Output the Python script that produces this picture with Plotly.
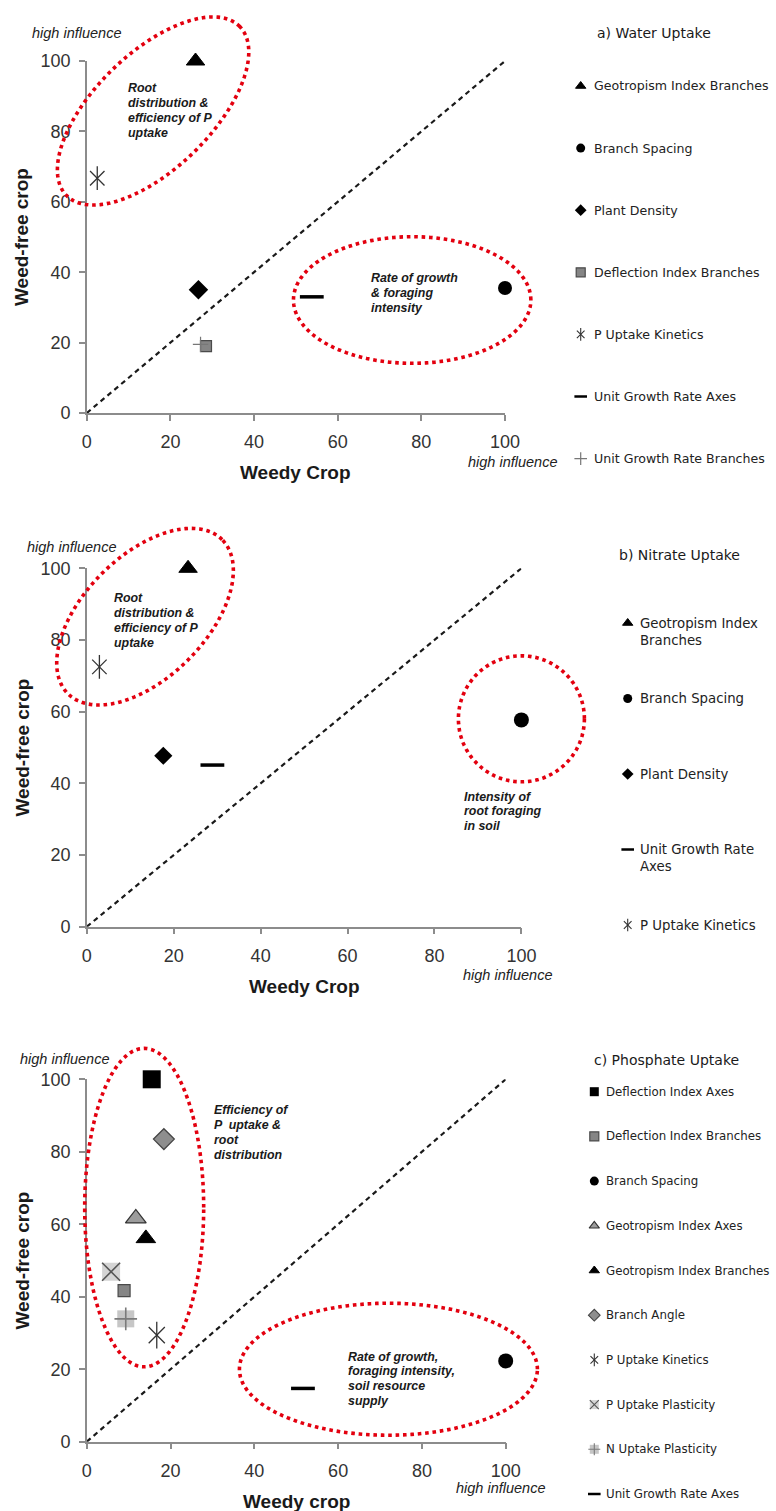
import math
import plotly.graph_objects as go

FIG_W, FIG_H = 776, 1511

# ---------------- data ----------------
TICKS = [0, 20, 40, 60, 80, 100]
DIAG = [0, 100]

A_TITLE = "a) Water Uptake"
A_SERIES = ["Geotropism Index Branches", "Branch Spacing", "Plant Density",
            "Deflection Index Branches", "P Uptake Kinetics",
            "Unit Growth Rate Axes", "Unit Growth Rate Branches"]
A_X = [26.0, 100.0, 26.7, 28.5, 2.5, 53.8, 27.2]
A_Y = [100.0, 35.5, 35.0, 19.0, 66.7, 33.0, 19.5]

B_TITLE = "b) Nitrate Uptake"
B_SERIES = ["Geotropism Index Branches", "Branch Spacing", "Plant Density",
            "Unit Growth Rate Axes", "P Uptake Kinetics"]
B_LABELS = ["Geotropism Index<br>Branches", "Branch Spacing", "Plant Density",
            "Unit Growth Rate<br>Axes", "P Uptake Kinetics"]
B_X = [23.3, 100.0, 17.6, 28.9, 2.9]
B_Y = [100.0, 57.7, 47.7, 45.1, 72.5]

C_TITLE = "c) Phosphate Uptake"
C_SERIES = ["Deflection Index Axes", "Deflection Index Branches", "Branch Spacing",
            "Geotropism Index Axes", "Geotropism Index Branches", "Branch Angle",
            "P Uptake Kinetics", "P Uptake Plasticity", "N Uptake Plasticity",
            "Unit Growth Rate Axes"]
C_X = [15.5, 8.9, 100.0, 11.7, 14.1, 18.4, 16.7, 5.8, 9.3, 51.6]
C_Y = [100.0, 41.7, 22.3, 61.6, 56.1, 83.5, 29.4, 46.9, 33.9, 14.7]

A_NOTES = [["Root", "distribution &", "efficiency of P", "uptake"],
           ["Rate of growth", "& foraging", "intensity"]]
B_NOTES = [["Root", "distribution &", "efficiency of P", "uptake"],
           ["Intensity of", "root foraging", "in soil"]]
C_NOTES = [["Efficiency of", "P  uptake &", "root", "distribution"],
           ["Rate of growth,", "foraging intensity,", "soil resource", "supply"]]
HIGH = "high influence"
X_TITLES = ["Weedy Crop", "Weedy Crop", "Weedy crop"]
Y_TITLE = "Weed-free crop"

# ---------------- layout / style constants ----------------
# plot area boxes in px: left, right, top, bottom
BOX = {'a': (86.8, 505.0, 61.0, 413.0),
       'b': (86.8, 521.4, 568.3, 926.7),
       'c': (86.8, 505.7, 1079.3, 1441.7)}
AX = {'a': ('x', 'y'), 'b': ('x2', 'y2'), 'c': ('x3', 'y3')}

# ellipses: centre (data), semi-axes (px), rotation (deg)
ELL = {'a': [(15.85, 85.8, 121, 58, 44.2), (77.8, 32.1, 118.7, 63.3, 0)],
       'b': [(13.4, 86.5, 109, 61, 45), (100.0, 58.0, 63, 63, 0)],
       'c': [(13.7, 64.6, 59.5, 159.2, 0), (72.0, 20.0, 149, 66, 0)]}

# notes: (left x, first-line centre y) in data coords, line spacing px
NOTE_POS = {'a': [(9.3, 92.2), (67.4, 38.3)],
            'b': [(5.7, 91.6), (86.4, 36.3)],
            'c': [(29.8, 91.5), (61.8, 23.5)]}
NOTE_LH = 14.8
HI_POS = {'a': [(-2.35, 108.0), (101.8, -13.8)],
          'b': [(-3.3, 106.0), (97.0, -13.5)],
          'c': [(-5.1, 105.5), (98.8, -12.9)]}

# legend layout (px)
LEG = {'a': dict(title_xy=(595, 33), mx=580.7, tx=591.7, y0=86.0, dy=62.1, fs=12.6),
       'b': dict(title_xy=(616.7, 555), mx=627.7, tx=638.3, y0=623.0, dy=75.5, fs=13.3),
       'c': dict(title_xy=(591.7, 1060), mx=594.3, tx=604.3, y0=1091.7, dy=44.7, fs=11.8)}

BLACK = '#000000'
STYLE = {
    "Geotropism Index Branches": [dict(symbol='triangle-up', color=BLACK, lc=BLACK, lw=1, f=1.0)],
    "Branch Spacing": [dict(symbol='circle', color=BLACK, lc=BLACK, lw=0, f=1.0)],
    "Plant Density": [dict(symbol='diamond', color=BLACK, lc=BLACK, lw=0, f=1.0)],
    "Deflection Index Branches": [dict(symbol='square', color='#858585', lc='#4a4a4a', lw=1.2, f=1.0)],
    "Deflection Index Axes": [dict(symbol='square', color=BLACK, lc=BLACK, lw=0, f=1.0)],
    "Geotropism Index Axes": [dict(symbol='triangle-up', color='#9c9c9c', lc='#333333', lw=1.3, f=1.0)],
    "Branch Angle": [dict(symbol='diamond', color='#8e8e8e', lc='#444444', lw=1.3, f=1.0)],
    "P Uptake Kinetics": [dict(symbol='x-thin-open', color='#333333', lc='#333333', lw=1.3, f=0.85),
                          dict(symbol='line-ns-open', color='#333333', lc='#333333', lw=1.3, f=1.0)],
    "P Uptake Plasticity": [dict(symbol='square', color='#d4d4d4', lc='#d4d4d4', lw=0, f=1.0),
                            dict(symbol='x-thin-open', color='#555555', lc='#555555', lw=1.6, f=1.0)],
    "N Uptake Plasticity": [dict(symbol='square', color='#c6c6c6', lc='#c6c6c6', lw=0, f=1.0),
                            dict(symbol='cross-thin-open', color='#7a7a7a', lc='#7a7a7a', lw=1.6, f=0.95)],
    "Unit Growth Rate Axes": [dict(symbol='line-ew-open', color=BLACK, lc=BLACK, lw=3.5, f=1.0)],
    "Unit Growth Rate Branches": [dict(symbol='cross-thin-open', color='#777777', lc='#777777', lw=1.2, f=1.0)],
}
SIZE = {
    'a': {"Geotropism Index Branches": 16, "Branch Spacing": 14, "Plant Density": 15,
          "Deflection Index Branches": 11, "P Uptake Kinetics": 17, "Unit Growth Rate Axes": 17,
          "Unit Growth Rate Branches": 11},
    'b': {"Geotropism Index Branches": 16, "Branch Spacing": 15, "Plant Density": 14,
          "Unit Growth Rate Axes": 17, "P Uptake Kinetics": 17},
    'c': {"Deflection Index Axes": 18, "Deflection Index Branches": 12, "Branch Spacing": 15,
          "Geotropism Index Axes": 18, "Geotropism Index Branches": 17, "Branch Angle": 16,
          "P Uptake Kinetics": 19, "P Uptake Plasticity": 18, "N Uptake Plasticity": 17,
          "Unit Growth Rate Axes": 17},
}
LEG_SIZE = 9

TICK_FONT = dict(family='Liberation Sans, Arial, sans-serif', size=18, color='#333333')
TITLE_FONT = dict(family='Liberation Sans, Arial, sans-serif', size=19, color='#1a1a1a')
NOTE_FONT = dict(family='Liberation Sans, Arial, sans-serif', size=12.4, color='#1a1a1a')
HI_FONT = dict(family='Liberation Sans, Arial, sans-serif', size=14.5, color='#222222')
LEG_FONT = 'DejaVu Sans, Verdana, sans-serif'
RED = '#e3000f'


def pxx(px):
    return px / FIG_W


def pxy(py):
    return 1 - py / FIG_H


fig = go.Figure()

PANELS = [('a', A_SERIES, A_SERIES, A_X, A_Y, A_TITLE, A_NOTES),
          ('b', B_SERIES, B_LABELS, B_X, B_Y, B_TITLE, B_NOTES),
          ('c', C_SERIES, C_SERIES, C_X, C_Y, C_TITLE, C_NOTES)]

shapes = []
annotations = []

for idx, (key, series, labels, xs, ys, title, notes) in enumerate(PANELS):
    xa, ya = AX[key]
    left, right, top, bottom = BOX[key]
    W, H = right - left, bottom - top

    def d2px(x, y):
        return left + x / 100 * W, bottom - y / 100 * H

    # diagonal 1:1 line
    fig.add_trace(go.Scatter(x=DIAG, y=DIAG, mode='lines', xaxis=xa, yaxis=ya,
                             line=dict(color='#1a1a1a', width=2.2, dash='5px,4px'),
                             showlegend=False, hoverinfo='skip', cliponaxis=False))

    # data points
    for name, xv, yv in zip(series, xs, ys):
        for lay in STYLE[name]:
            fig.add_trace(go.Scatter(
                x=[xv], y=[yv], mode='markers', xaxis=xa, yaxis=ya, name=name,
                showlegend=False, cliponaxis=False,
                marker=dict(symbol=lay['symbol'], size=SIZE[key][name] * lay['f'],
                            color=lay['color'],
                            line=dict(color=lay['lc'], width=lay['lw']))))

    # legend markers (drawn on a pixel-scaled overlay axis)
    L = LEG[key]
    for i, (name, lab) in enumerate(zip(series, labels)):
        yy = L['y0'] + i * L['dy']
        for lay in STYLE[name]:
            lw = lay['lw']
            if lay['symbol'].startswith('line-ew'):
                lw = 2.5
            elif lw > 1.2:
                lw = 1.1
            fig.add_trace(go.Scatter(
                x=[L['mx']], y=[yy], mode='markers', xaxis='x4', yaxis='y4',
                showlegend=False, cliponaxis=False, hoverinfo='skip',
                marker=dict(symbol=lay['symbol'], size=LEG_SIZE * lay['f'],
                            color=lay['color'], line=dict(color=lay['lc'], width=lw))))
        nl = lab.count('<br>') + 1
        lh = 1.33 * L['fs']
        annotations.append(dict(
            x=pxx(L['tx']), y=pxy(yy + (nl - 1) * lh / 2), xref='paper', yref='paper',
            xanchor='left', yanchor='middle', align='left', showarrow=False, text=lab,
            font=dict(family=LEG_FONT, size=L['fs'], color='#222222')))
    annotations.append(dict(
        x=pxx(L['title_xy'][0]), y=pxy(L['title_xy'][1]), xref='paper', yref='paper',
        xanchor='left', yanchor='middle', showarrow=False, text=title,
        font=dict(family=LEG_FONT, size=14, color='#1a1a1a')))

    # ellipses
    for (cx, cy, a, b, ang) in ELL[key]:
        cxp, cyp = d2px(cx, cy)
        th = math.radians(ang)
        pts = []
        n = 160
        for k in range(n):
            t = 2 * math.pi * k / n
            dx = a * math.cos(t) * math.cos(th) - b * math.sin(t) * math.sin(th)
            dy = a * math.cos(t) * math.sin(th) + b * math.sin(t) * math.cos(th)
            pts.append((pxx(cxp + dx), pxy(cyp - dy)))
        path = 'M ' + ' L '.join(f'{p[0]:.5f},{p[1]:.5f}' for p in pts) + ' Z'
        shapes.append(dict(type='path', path=path, xref='paper', yref='paper',
                           line=dict(color=RED, width=3.6, dash='3.6px,3.8px'),
                           fillcolor='rgba(0,0,0,0)', layer='above'))

    # notes (one annotation per line for exact line spacing)
    for lines, (nx, ny) in zip(notes, NOTE_POS[key]):
        px_, py_ = d2px(nx, ny)
        for j, line in enumerate(lines):
            annotations.append(dict(x=pxx(px_), y=pxy(py_ + j * NOTE_LH), xref='paper', yref='paper',
                                    xanchor='left', yanchor='middle', align='left', showarrow=False,
                                    text=f'<b><i>{line}</i></b>', font=NOTE_FONT))
    for (hx, hy) in HI_POS[key]:
        px_, py_ = d2px(hx, hy)
        annotations.append(dict(x=pxx(px_), y=pxy(py_), xref='paper', yref='paper',
                                xanchor='center', yanchor='middle', showarrow=False,
                                text=f'<i>{HIGH}</i>', font=HI_FONT))

    # axis titles
    annotations.append(dict(x=pxx((left + right) / 2), y=pxy(bottom + 60), xref='paper', yref='paper',
                            xanchor='center', yanchor='middle', showarrow=False,
                            text=f'<b>{X_TITLES[idx]}</b>', font=TITLE_FONT))
    annotations.append(dict(x=pxx(22), y=pxy((top + bottom) / 2), xref='paper', yref='paper',
                            xanchor='center', yanchor='middle', showarrow=False, textangle=-90,
                            text=f'<b>{Y_TITLE}</b>', font=TITLE_FONT))

axis_common = dict(range=[0, 100], tickvals=TICKS, showgrid=False, zeroline=False,
                   showline=True, linecolor='#8c8c8c', linewidth=1.5, ticks='outside',
                   ticklen=6, tickcolor='#8c8c8c', tickwidth=1.5, tickfont=TICK_FONT,
                   fixedrange=True, automargin=False)

layout = dict(width=FIG_W, height=FIG_H,
              margin=dict(l=0, r=0, t=0, b=0, pad=0, autoexpand=False),
              paper_bgcolor='white', plot_bgcolor='rgba(0,0,0,0)', showlegend=False,
              hovermode=False, shapes=shapes, annotations=annotations)
for i, key in enumerate(['a', 'b', 'c']):
    left, right, top, bottom = BOX[key]
    sfx = '' if i == 0 else str(i + 1)
    layout['xaxis' + sfx] = dict(axis_common, domain=[pxx(left), pxx(right)], anchor='y' + sfx,
                                 ticklabelstandoff=6)
    layout['yaxis' + sfx] = dict(axis_common, domain=[pxy(bottom), pxy(top)], anchor='x' + sfx,
                                 ticklabelstandoff=5)
layout['xaxis4'] = dict(domain=[0, 1], range=[0, FIG_W], visible=False, anchor='y4',
                        fixedrange=True, automargin=False)
layout['yaxis4'] = dict(domain=[0, 1], range=[FIG_H, 0], visible=False, anchor='x4',
                        fixedrange=True, automargin=False)

fig.update_layout(**layout)
fig.write_html("out.html", config={'displayModeBar': False},
               post_script="document.body.style.margin='0px';document.body.style.padding='0px';")
